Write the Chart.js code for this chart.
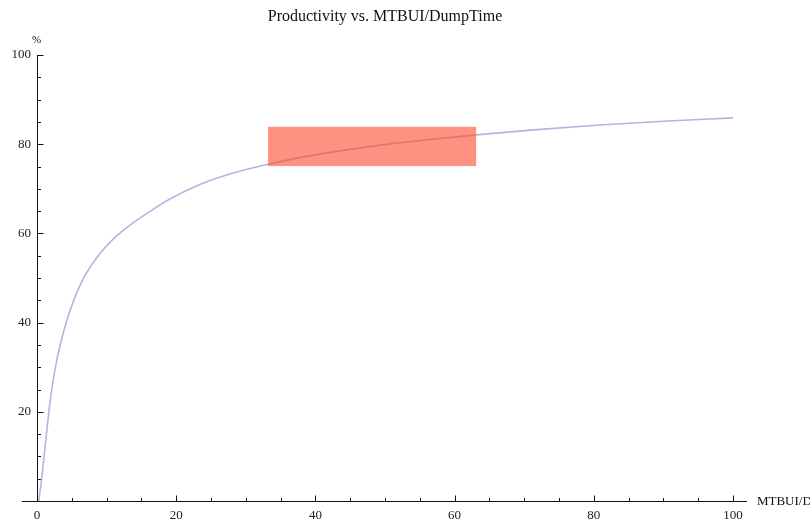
<!DOCTYPE html>
<html>
<head>
<meta charset="utf-8">
<script src="https://cdn.jsdelivr.net/npm/chart.js@4.4.1/dist/chart.umd.min.js"></script>
<style>
  body { margin: 0; background: #fff; }
  canvas { display: block; }
</style>
</head>
<body>
<canvas id="chart" width="810" height="520"></canvas>
<script>
// values
let ratio = [0.25, 0.7, 1.05, 1.35, 1.7, 2.1, 2.65, 3.35, 4.2, 5.3, 6.6, 8.6, 10.8, 13.4, 16.2, 19.1, 23, 27.7, 33.2, 40, 49.3, 56, 63.1, 70.9, 80.9, 90, 100];
let productivity = [0, 5.4, 10.5, 15, 19.9, 24.8, 30, 35.1, 40, 45.1, 49.7, 54.6, 58.5, 61.9, 64.9, 67.7, 70.7, 73.3, 75.5, 77.6, 79.8, 81.0, 82.1, 83.15, 84.3, 85.15, 85.9];
let xTicks = [0, 20, 40, 60, 80, 100];
let yTicks = [20, 40, 60, 80, 100];
let xMinor = [5, 10, 15, 25, 30, 35, 45, 50, 55, 65, 70, 75, 85, 90, 95];
let yMinor = [5, 10, 15, 25, 30, 35, 45, 50, 55, 65, 70, 75, 85, 90, 95];
let boxX = [33.2, 63.1];
let boxY = [75.1, 83.9];
let xAxisRange = [-2.2, 102];

let points = [];
for (var i = 0; i < ratio.length; i++) {
    points[i] = {x: ratio[i], y: productivity[i]};
}

// Mathematica style axes: ticks pointing inward, box drawn over the curve
let axesPlugin = {
    id: 'axes',
    beforeDatasetsDraw: function (chart) {
        let ctx = chart.ctx;
        let xs = chart.scales.x, ys = chart.scales.y;
        let x0 = Math.round(xs.getPixelForValue(0)) + 0.5;
        let y0 = Math.round(ys.getPixelForValue(0)) + 0.5;
        ctx.save();
        ctx.strokeStyle = '#111';
        ctx.lineWidth = 1;
        ctx.beginPath();
        ctx.moveTo(xs.getPixelForValue(xAxisRange[0]), y0);
        ctx.lineTo(xs.getPixelForValue(xAxisRange[1]), y0);
        ctx.moveTo(x0, y0);
        ctx.lineTo(x0, ys.getPixelForValue(100));
        xTicks.forEach(function (v) {
            let p = Math.round(xs.getPixelForValue(v)) + 0.5;
            ctx.moveTo(p, y0); ctx.lineTo(p, y0 - 6);
        });
        xMinor.forEach(function (v) {
            let p = Math.round(xs.getPixelForValue(v)) + 0.5;
            ctx.moveTo(p, y0); ctx.lineTo(p, y0 - 3.5);
        });
        yTicks.forEach(function (v) {
            let p = Math.round(ys.getPixelForValue(v)) + 0.5;
            ctx.moveTo(x0, p); ctx.lineTo(x0 + 6, p);
        });
        yMinor.forEach(function (v) {
            let p = Math.round(ys.getPixelForValue(v)) + 0.5;
            ctx.moveTo(x0, p); ctx.lineTo(x0 + 3.5, p);
        });
        ctx.stroke();
        ctx.fillStyle = '#111';
        ctx.font = '11px "Liberation Serif"';
        ctx.textAlign = 'center';
        ctx.textBaseline = 'middle';
        ctx.fillText('%', x0 - 1, ys.getPixelForValue(100) - 15);
        ctx.font = '13px "Liberation Serif"';
        ctx.textAlign = 'left';
        ctx.fillText('MTBUI/DumpTime', xs.getPixelForValue(xAxisRange[1]) + 10, y0);
        ctx.restore();
    },
    afterDatasetsDraw: function (chart) {
        let ctx = chart.ctx;
        let xs = chart.scales.x, ys = chart.scales.y;
        let l = xs.getPixelForValue(boxX[0]), r = xs.getPixelForValue(boxX[1]);
        let t = ys.getPixelForValue(boxY[1]), b = ys.getPixelForValue(boxY[0]);
        ctx.save();
        ctx.fillStyle = 'rgba(255, 72, 43, 0.6)';
        ctx.fillRect(l, t, r - l, b - t);
        ctx.restore();
    }
};

let ctx = document.getElementById("chart").getContext('2d');
let chart = new Chart(ctx, {
    type: 'scatter',
    data: {
        datasets: [{
            data: points,
            showLine: true,
            borderColor: '#b4b4de',
            borderWidth: 1.6,
            pointRadius: 0,
            cubicInterpolationMode: 'monotone',
            fill: false
        }]
    },
    options: {
        responsive: false,
        animation: false,
        layout: { padding: { left: 0, right: 77, top: 0, bottom: 0 } },
        plugins: {
            legend: { display: false },
            tooltip: { enabled: false },
            title: {
                display: true,
                fullSize: false,
                text: 'Productivity vs. MTBUI/DumpTime',
                color: '#111',
                font: { family: '"Liberation Serif"', size: 16, weight: 'normal', lineHeight: 1.2 },
                padding: { top: 7.5, bottom: 28.3 }
            }
        },
        scales: {
            x: {
                type: 'linear',
                min: 0,
                max: 100,
                grid: { display: false, drawTicks: false },
                border: { display: false },
                afterBuildTicks: function (s) { s.ticks = xTicks.map(function (v) { return {value: v}; }); },
                afterFit: function (s) { s.height = 19; },
                ticks: {
                    padding: 7,
                    maxRotation: 0,
                    color: '#222',
                    font: { family: '"Liberation Serif"', size: 13 }
                }
            },
            y: {
                type: 'linear',
                min: 0,
                max: 100,
                grid: { display: false, drawTicks: false },
                border: { display: false },
                afterBuildTicks: function (s) { s.ticks = yTicks.map(function (v) { return {value: v}; }); },
                afterFit: function (s) { s.width = 37; },
                ticks: {
                    padding: 6,
                    color: '#222',
                    font: { family: '"Liberation Serif"', size: 13 }
                }
            }
        }
    },
    plugins: [axesPlugin]
});
</script>
</body>
</html>
